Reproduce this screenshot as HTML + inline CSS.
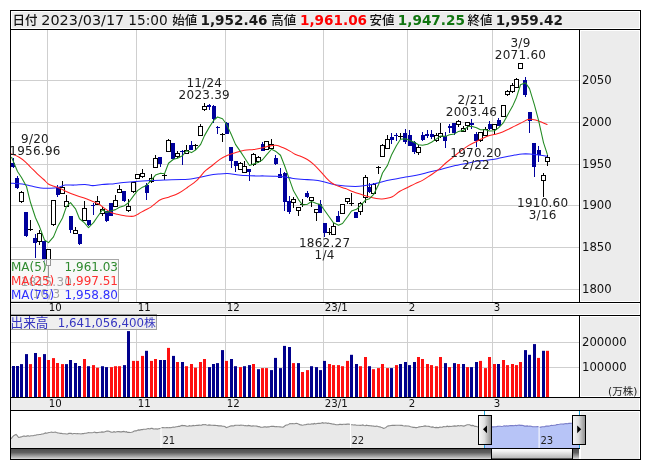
<!DOCTYPE html>
<html><head><meta charset="utf-8"><title>chart</title><style>html,body{margin:0;padding:0;background:#fff;}body{width:653px;height:470px;overflow:hidden;}svg{display:block;}</style></head><body>
<svg width="653" height="470" viewBox="0 0 653 470">
<defs>
<linearGradient id="trk" x1="0" y1="0" x2="0" y2="1"><stop offset="0" stop-color="#4e4e4e"/><stop offset="0.35" stop-color="#606060"/><stop offset="0.9" stop-color="#c4c4c4"/><stop offset="1" stop-color="#e0e0e0"/></linearGradient>
<linearGradient id="thumb" x1="0" y1="0" x2="0" y2="1"><stop offset="0" stop-color="#ffffff"/><stop offset="0.3" stop-color="#eeeeee"/><stop offset="1" stop-color="#b0b0b0"/></linearGradient>
<linearGradient id="hdl" x1="0" y1="0" x2="1" y2="0"><stop offset="0" stop-color="#f8f8f8"/><stop offset="0.45" stop-color="#e0e0e0"/><stop offset="1" stop-color="#8c8c8c"/></linearGradient>
<clipPath id="mainclip"><rect x="11" y="30" width="568" height="272"/></clipPath>
<clipPath id="volclip"><rect x="11" y="316" width="568" height="81"/></clipPath>
</defs>
<rect width="653" height="470" fill="#fff"/>
<rect x="12" y="12" width="627" height="16" fill="#ececec"/>
<rect x="581" y="31" width="58" height="270" fill="#ececec"/>
<rect x="11" y="304" width="628" height="10" fill="#ececec"/>
<rect x="581" y="317" width="58" height="79" fill="#ececec"/>
<rect x="11" y="398" width="628" height="12" fill="#ececec"/>
<rect x="581" y="412" width="58" height="47" fill="#ececec"/>
<line x1="47.5" y1="30" x2="47.5" y2="302" stroke="#cfcfcf" stroke-width="1"/>
<line x1="47.5" y1="316" x2="47.5" y2="397" stroke="#cfcfcf" stroke-width="1"/>
<line x1="136.5" y1="30" x2="136.5" y2="302" stroke="#cfcfcf" stroke-width="1"/>
<line x1="136.5" y1="316" x2="136.5" y2="397" stroke="#cfcfcf" stroke-width="1"/>
<line x1="225.5" y1="30" x2="225.5" y2="302" stroke="#cfcfcf" stroke-width="1"/>
<line x1="225.5" y1="316" x2="225.5" y2="397" stroke="#cfcfcf" stroke-width="1"/>
<line x1="323.5" y1="30" x2="323.5" y2="302" stroke="#cfcfcf" stroke-width="1"/>
<line x1="323.5" y1="316" x2="323.5" y2="397" stroke="#cfcfcf" stroke-width="1"/>
<line x1="407.5" y1="30" x2="407.5" y2="302" stroke="#cfcfcf" stroke-width="1"/>
<line x1="407.5" y1="316" x2="407.5" y2="397" stroke="#cfcfcf" stroke-width="1"/>
<line x1="492.5" y1="30" x2="492.5" y2="302" stroke="#cfcfcf" stroke-width="1"/>
<line x1="492.5" y1="316" x2="492.5" y2="397" stroke="#cfcfcf" stroke-width="1"/>
<line x1="11" y1="80.5" x2="579" y2="80.5" stroke="#cfcfcf" stroke-width="1"/>
<line x1="11" y1="122.5" x2="579" y2="122.5" stroke="#cfcfcf" stroke-width="1"/>
<line x1="11" y1="164.5" x2="579" y2="164.5" stroke="#cfcfcf" stroke-width="1"/>
<line x1="11" y1="205.5" x2="579" y2="205.5" stroke="#cfcfcf" stroke-width="1"/>
<line x1="11" y1="247.5" x2="579" y2="247.5" stroke="#cfcfcf" stroke-width="1"/>
<line x1="11" y1="289.5" x2="579" y2="289.5" stroke="#cfcfcf" stroke-width="1"/>
<line x1="11" y1="342.5" x2="579" y2="342.5" stroke="#cfcfcf" stroke-width="1"/>
<line x1="11" y1="367.5" x2="579" y2="367.5" stroke="#cfcfcf" stroke-width="1"/>
<g clip-path="url(#mainclip)" shape-rendering="crispEdges">
<rect x="13" y="158" width="1" height="10" fill="#00009c"/>
<rect x="11" y="163" width="4" height="4" fill="#00009c"/>
<rect x="17" y="176" width="1" height="13" fill="#00009c"/>
<rect x="15" y="178" width="4" height="10" fill="#00009c"/>
<rect x="21" y="191" width="1" height="12" fill="#000"/>
<rect x="19" y="192" width="5" height="10" fill="#000"/>
<rect x="20" y="193" width="3" height="8" fill="#fff"/>
<rect x="26" y="212" width="1" height="25" fill="#00009c"/>
<rect x="24" y="212" width="4" height="24" fill="#00009c"/>
<rect x="30" y="220" width="1" height="11" fill="#000"/>
<rect x="28" y="229" width="5" height="1" fill="#000"/>
<rect x="35" y="234" width="1" height="24" fill="#00009c"/>
<rect x="33" y="238" width="4" height="5" fill="#00009c"/>
<rect x="39" y="230" width="1" height="15" fill="#000"/>
<rect x="37" y="233" width="5" height="9" fill="#000"/>
<rect x="38" y="234" width="3" height="7" fill="#fff"/>
<rect x="44" y="241" width="1" height="21" fill="#00009c"/>
<rect x="42" y="241" width="4" height="18" fill="#00009c"/>
<rect x="48" y="249" width="1" height="28" fill="#000"/>
<rect x="46" y="249" width="5" height="17" fill="#000"/>
<rect x="47" y="250" width="3" height="15" fill="#fff"/>
<rect x="53" y="200" width="1" height="26" fill="#000"/>
<rect x="51" y="200" width="5" height="25" fill="#000"/>
<rect x="52" y="201" width="3" height="23" fill="#fff"/>
<rect x="57" y="185" width="1" height="12" fill="#00009c"/>
<rect x="56" y="187" width="4" height="8" fill="#00009c"/>
<rect x="62" y="181" width="1" height="13" fill="#000"/>
<rect x="60" y="187" width="5" height="7" fill="#000"/>
<rect x="61" y="188" width="3" height="5" fill="#fff"/>
<rect x="66" y="195" width="1" height="12" fill="#000"/>
<rect x="64" y="201" width="5" height="6" fill="#000"/>
<rect x="65" y="202" width="3" height="4" fill="#fff"/>
<rect x="70" y="216" width="1" height="17" fill="#00009c"/>
<rect x="69" y="216" width="4" height="14" fill="#00009c"/>
<rect x="75" y="227" width="1" height="7" fill="#000"/>
<rect x="73" y="230" width="5" height="4" fill="#000"/>
<rect x="74" y="231" width="3" height="2" fill="#fff"/>
<rect x="79" y="234" width="1" height="11" fill="#00009c"/>
<rect x="78" y="234" width="4" height="10" fill="#00009c"/>
<rect x="84" y="201" width="1" height="20" fill="#000"/>
<rect x="82" y="208" width="5" height="13" fill="#000"/>
<rect x="83" y="209" width="3" height="11" fill="#fff"/>
<rect x="88" y="220" width="1" height="6" fill="#00009c"/>
<rect x="87" y="220" width="4" height="5" fill="#00009c"/>
<rect x="93" y="203" width="1" height="12" fill="#00009c"/>
<rect x="91" y="205" width="4" height="1" fill="#00009c"/>
<rect x="97" y="196" width="1" height="9" fill="#000"/>
<rect x="95" y="201" width="5" height="4" fill="#000"/>
<rect x="96" y="202" width="3" height="2" fill="#fff"/>
<rect x="102" y="207" width="1" height="9" fill="#000"/>
<rect x="100" y="209" width="5" height="5" fill="#000"/>
<rect x="101" y="210" width="3" height="3" fill="#fff"/>
<rect x="106" y="211" width="1" height="11" fill="#00009c"/>
<rect x="105" y="211" width="4" height="10" fill="#00009c"/>
<rect x="111" y="203" width="1" height="13" fill="#00009c"/>
<rect x="109" y="203" width="4" height="13" fill="#00009c"/>
<rect x="115" y="195" width="1" height="12" fill="#000"/>
<rect x="113" y="200" width="5" height="7" fill="#000"/>
<rect x="114" y="201" width="3" height="5" fill="#fff"/>
<rect x="119" y="185" width="1" height="7" fill="#000"/>
<rect x="117" y="189" width="5" height="4" fill="#000"/>
<rect x="118" y="190" width="3" height="2" fill="#fff"/>
<rect x="124" y="191" width="1" height="11" fill="#00009c"/>
<rect x="122" y="191" width="4" height="10" fill="#00009c"/>
<rect x="128" y="199" width="1" height="13" fill="#000"/>
<rect x="126" y="206" width="5" height="5" fill="#000"/>
<rect x="127" y="207" width="3" height="3" fill="#fff"/>
<rect x="133" y="182" width="1" height="11" fill="#000"/>
<rect x="131" y="182" width="5" height="10" fill="#000"/>
<rect x="132" y="183" width="3" height="8" fill="#fff"/>
<rect x="137" y="174" width="1" height="5" fill="#000"/>
<rect x="135" y="174" width="5" height="5" fill="#000"/>
<rect x="136" y="175" width="3" height="3" fill="#fff"/>
<rect x="142" y="169" width="1" height="9" fill="#000"/>
<rect x="140" y="173" width="5" height="4" fill="#000"/>
<rect x="141" y="174" width="3" height="2" fill="#fff"/>
<rect x="146" y="183" width="1" height="17" fill="#00009c"/>
<rect x="145" y="185" width="4" height="8" fill="#00009c"/>
<rect x="151" y="174" width="1" height="9" fill="#000"/>
<rect x="149" y="178" width="5" height="4" fill="#000"/>
<rect x="150" y="179" width="3" height="2" fill="#fff"/>
<rect x="155" y="155" width="1" height="13" fill="#000"/>
<rect x="153" y="158" width="5" height="10" fill="#000"/>
<rect x="154" y="159" width="3" height="8" fill="#fff"/>
<rect x="160" y="157" width="1" height="10" fill="#00009c"/>
<rect x="158" y="157" width="4" height="7" fill="#00009c"/>
<rect x="164" y="173" width="1" height="7" fill="#000"/>
<rect x="162" y="175" width="5" height="1" fill="#000"/>
<rect x="168" y="139" width="1" height="13" fill="#000"/>
<rect x="166" y="140" width="5" height="12" fill="#000"/>
<rect x="167" y="141" width="3" height="10" fill="#fff"/>
<rect x="173" y="143" width="1" height="16" fill="#00009c"/>
<rect x="171" y="143" width="4" height="16" fill="#00009c"/>
<rect x="177" y="151" width="1" height="7" fill="#000"/>
<rect x="175" y="153" width="5" height="4" fill="#000"/>
<rect x="176" y="154" width="3" height="2" fill="#fff"/>
<rect x="182" y="150" width="1" height="15" fill="#00009c"/>
<rect x="180" y="151" width="4" height="1" fill="#00009c"/>
<rect x="186" y="145" width="1" height="8" fill="#000"/>
<rect x="184" y="150" width="5" height="4" fill="#000"/>
<rect x="185" y="151" width="3" height="2" fill="#fff"/>
<rect x="191" y="141" width="1" height="9" fill="#00009c"/>
<rect x="189" y="145" width="4" height="5" fill="#00009c"/>
<rect x="195" y="144" width="1" height="6" fill="#000"/>
<rect x="193" y="145" width="5" height="1" fill="#000"/>
<rect x="200" y="124" width="1" height="12" fill="#000"/>
<rect x="198" y="126" width="5" height="10" fill="#000"/>
<rect x="199" y="127" width="3" height="8" fill="#fff"/>
<rect x="204" y="103" width="1" height="8" fill="#000"/>
<rect x="202" y="106" width="5" height="4" fill="#000"/>
<rect x="203" y="107" width="3" height="2" fill="#fff"/>
<rect x="209" y="104" width="1" height="6" fill="#00009c"/>
<rect x="207" y="105" width="4" height="2" fill="#00009c"/>
<rect x="213" y="105" width="1" height="18" fill="#00009c"/>
<rect x="212" y="106" width="4" height="13" fill="#00009c"/>
<rect x="217" y="126" width="1" height="8" fill="#00009c"/>
<rect x="216" y="127" width="4" height="1" fill="#00009c"/>
<rect x="222" y="133" width="1" height="9" fill="#000"/>
<rect x="220" y="134" width="5" height="1" fill="#000"/>
<rect x="226" y="122" width="1" height="12" fill="#00009c"/>
<rect x="225" y="123" width="4" height="11" fill="#00009c"/>
<rect x="231" y="147" width="1" height="21" fill="#00009c"/>
<rect x="229" y="147" width="4" height="14" fill="#00009c"/>
<rect x="235" y="161" width="1" height="11" fill="#00009c"/>
<rect x="234" y="161" width="4" height="5" fill="#00009c"/>
<rect x="240" y="162" width="1" height="8" fill="#000"/>
<rect x="238" y="163" width="5" height="7" fill="#000"/>
<rect x="239" y="164" width="3" height="5" fill="#fff"/>
<rect x="244" y="161" width="1" height="12" fill="#000"/>
<rect x="242" y="166" width="5" height="7" fill="#000"/>
<rect x="243" y="167" width="3" height="5" fill="#fff"/>
<rect x="249" y="169" width="1" height="12" fill="#00009c"/>
<rect x="247" y="169" width="4" height="3" fill="#00009c"/>
<rect x="253" y="153" width="1" height="13" fill="#000"/>
<rect x="251" y="154" width="5" height="11" fill="#000"/>
<rect x="252" y="155" width="3" height="9" fill="#fff"/>
<rect x="258" y="156" width="1" height="7" fill="#000"/>
<rect x="256" y="157" width="5" height="5" fill="#000"/>
<rect x="257" y="158" width="3" height="3" fill="#fff"/>
<rect x="262" y="142" width="1" height="9" fill="#00009c"/>
<rect x="261" y="144" width="4" height="7" fill="#00009c"/>
<rect x="266" y="141" width="1" height="9" fill="#000"/>
<rect x="264" y="141" width="5" height="9" fill="#000"/>
<rect x="265" y="142" width="3" height="7" fill="#fff"/>
<rect x="271" y="139" width="1" height="10" fill="#000"/>
<rect x="269" y="144" width="5" height="5" fill="#000"/>
<rect x="270" y="145" width="3" height="3" fill="#fff"/>
<rect x="275" y="155" width="1" height="10" fill="#00009c"/>
<rect x="274" y="158" width="4" height="6" fill="#00009c"/>
<rect x="280" y="168" width="1" height="10" fill="#00009c"/>
<rect x="278" y="174" width="4" height="4" fill="#00009c"/>
<rect x="284" y="172" width="1" height="39" fill="#00009c"/>
<rect x="283" y="173" width="4" height="29" fill="#00009c"/>
<rect x="289" y="196" width="1" height="18" fill="#00009c"/>
<rect x="287" y="201" width="4" height="11" fill="#00009c"/>
<rect x="293" y="197" width="1" height="11" fill="#000"/>
<rect x="291" y="199" width="5" height="4" fill="#000"/>
<rect x="292" y="200" width="3" height="2" fill="#fff"/>
<rect x="298" y="207" width="1" height="9" fill="#000"/>
<rect x="296" y="207" width="5" height="4" fill="#000"/>
<rect x="297" y="208" width="3" height="2" fill="#fff"/>
<rect x="302" y="199" width="1" height="8" fill="#000"/>
<rect x="300" y="204" width="5" height="1" fill="#000"/>
<rect x="307" y="191" width="1" height="7" fill="#00009c"/>
<rect x="305" y="193" width="4" height="4" fill="#00009c"/>
<rect x="311" y="198" width="1" height="9" fill="#000"/>
<rect x="309" y="197" width="5" height="4" fill="#000"/>
<rect x="310" y="198" width="3" height="2" fill="#fff"/>
<rect x="316" y="210" width="1" height="11" fill="#000"/>
<rect x="314" y="209" width="5" height="4" fill="#000"/>
<rect x="315" y="210" width="3" height="2" fill="#fff"/>
<rect x="320" y="200" width="1" height="13" fill="#00009c"/>
<rect x="318" y="204" width="4" height="9" fill="#00009c"/>
<rect x="324" y="223" width="1" height="14" fill="#00009c"/>
<rect x="323" y="223" width="4" height="10" fill="#00009c"/>
<rect x="329" y="228" width="1" height="7" fill="#000"/>
<rect x="327" y="232" width="5" height="1" fill="#000"/>
<rect x="333" y="223" width="1" height="12" fill="#000"/>
<rect x="331" y="226" width="5" height="9" fill="#000"/>
<rect x="332" y="227" width="3" height="7" fill="#fff"/>
<rect x="338" y="211" width="1" height="11" fill="#00009c"/>
<rect x="336" y="216" width="4" height="6" fill="#00009c"/>
<rect x="342" y="204" width="1" height="10" fill="#000"/>
<rect x="340" y="204" width="5" height="10" fill="#000"/>
<rect x="341" y="205" width="3" height="8" fill="#fff"/>
<rect x="347" y="198" width="1" height="6" fill="#000"/>
<rect x="345" y="198" width="5" height="4" fill="#000"/>
<rect x="346" y="199" width="3" height="2" fill="#fff"/>
<rect x="351" y="193" width="1" height="13" fill="#000"/>
<rect x="349" y="203" width="5" height="1" fill="#000"/>
<rect x="356" y="212" width="1" height="6" fill="#00009c"/>
<rect x="354" y="212" width="4" height="6" fill="#00009c"/>
<rect x="360" y="202" width="1" height="13" fill="#000"/>
<rect x="358" y="203" width="5" height="9" fill="#000"/>
<rect x="359" y="204" width="3" height="7" fill="#fff"/>
<rect x="365" y="175" width="1" height="28" fill="#000"/>
<rect x="363" y="177" width="5" height="21" fill="#000"/>
<rect x="364" y="178" width="3" height="19" fill="#fff"/>
<rect x="369" y="183" width="1" height="10" fill="#00009c"/>
<rect x="367" y="187" width="4" height="5" fill="#00009c"/>
<rect x="373" y="183" width="1" height="11" fill="#000"/>
<rect x="371" y="184" width="5" height="10" fill="#000"/>
<rect x="372" y="185" width="3" height="8" fill="#fff"/>
<rect x="378" y="166" width="1" height="8" fill="#000"/>
<rect x="376" y="167" width="5" height="1" fill="#000"/>
<rect x="382" y="144" width="1" height="13" fill="#000"/>
<rect x="380" y="145" width="5" height="12" fill="#000"/>
<rect x="381" y="146" width="3" height="10" fill="#fff"/>
<rect x="387" y="135" width="1" height="14" fill="#000"/>
<rect x="385" y="139" width="5" height="10" fill="#000"/>
<rect x="386" y="140" width="3" height="8" fill="#fff"/>
<rect x="391" y="133" width="1" height="11" fill="#00009c"/>
<rect x="390" y="137" width="4" height="3" fill="#00009c"/>
<rect x="396" y="133" width="1" height="8" fill="#00009c"/>
<rect x="394" y="135" width="4" height="1" fill="#00009c"/>
<rect x="400" y="133" width="1" height="6" fill="#000"/>
<rect x="398" y="136" width="5" height="1" fill="#000"/>
<rect x="405" y="129" width="1" height="15" fill="#00009c"/>
<rect x="403" y="133" width="4" height="9" fill="#00009c"/>
<rect x="409" y="130" width="1" height="16" fill="#00009c"/>
<rect x="408" y="135" width="4" height="11" fill="#00009c"/>
<rect x="414" y="141" width="1" height="13" fill="#00009c"/>
<rect x="412" y="142" width="4" height="10" fill="#00009c"/>
<rect x="418" y="145" width="1" height="10" fill="#000"/>
<rect x="416" y="147" width="5" height="6" fill="#000"/>
<rect x="417" y="148" width="3" height="4" fill="#fff"/>
<rect x="422" y="132" width="1" height="9" fill="#00009c"/>
<rect x="421" y="135" width="4" height="5" fill="#00009c"/>
<rect x="427" y="130" width="1" height="8" fill="#00009c"/>
<rect x="425" y="134" width="4" height="2" fill="#00009c"/>
<rect x="431" y="130" width="1" height="9" fill="#00009c"/>
<rect x="430" y="134" width="4" height="3" fill="#00009c"/>
<rect x="436" y="133" width="1" height="9" fill="#000"/>
<rect x="434" y="135" width="5" height="6" fill="#000"/>
<rect x="435" y="136" width="3" height="4" fill="#fff"/>
<rect x="440" y="123" width="1" height="15" fill="#000"/>
<rect x="438" y="133" width="5" height="4" fill="#000"/>
<rect x="439" y="134" width="3" height="2" fill="#fff"/>
<rect x="445" y="132" width="1" height="16" fill="#00009c"/>
<rect x="443" y="136" width="4" height="5" fill="#00009c"/>
<rect x="449" y="124" width="1" height="9" fill="#00009c"/>
<rect x="448" y="126" width="4" height="2" fill="#00009c"/>
<rect x="454" y="123" width="1" height="12" fill="#00009c"/>
<rect x="452" y="123" width="4" height="10" fill="#00009c"/>
<rect x="458" y="120" width="1" height="7" fill="#000"/>
<rect x="456" y="121" width="5" height="4" fill="#000"/>
<rect x="457" y="122" width="3" height="2" fill="#fff"/>
<rect x="463" y="126" width="1" height="6" fill="#000"/>
<rect x="461" y="128" width="5" height="4" fill="#000"/>
<rect x="462" y="129" width="3" height="2" fill="#fff"/>
<rect x="467" y="122" width="1" height="8" fill="#000"/>
<rect x="465" y="122" width="5" height="4" fill="#000"/>
<rect x="466" y="123" width="3" height="2" fill="#fff"/>
<rect x="471" y="119" width="1" height="10" fill="#00009c"/>
<rect x="470" y="123" width="4" height="2" fill="#00009c"/>
<rect x="476" y="132" width="1" height="15" fill="#00009c"/>
<rect x="474" y="134" width="4" height="7" fill="#00009c"/>
<rect x="480" y="132" width="1" height="10" fill="#000"/>
<rect x="478" y="132" width="5" height="9" fill="#000"/>
<rect x="479" y="133" width="3" height="7" fill="#fff"/>
<rect x="485" y="127" width="1" height="9" fill="#000"/>
<rect x="483" y="129" width="5" height="7" fill="#000"/>
<rect x="484" y="130" width="3" height="5" fill="#fff"/>
<rect x="489" y="121" width="1" height="9" fill="#00009c"/>
<rect x="488" y="124" width="4" height="5" fill="#00009c"/>
<rect x="494" y="124" width="1" height="10" fill="#000"/>
<rect x="492" y="124" width="5" height="6" fill="#000"/>
<rect x="493" y="125" width="3" height="4" fill="#fff"/>
<rect x="498" y="118" width="1" height="8" fill="#00009c"/>
<rect x="497" y="120" width="4" height="6" fill="#00009c"/>
<rect x="503" y="105" width="1" height="12" fill="#000"/>
<rect x="501" y="105" width="5" height="12" fill="#000"/>
<rect x="502" y="106" width="3" height="10" fill="#fff"/>
<rect x="507" y="90" width="1" height="6" fill="#000"/>
<rect x="505" y="91" width="5" height="4" fill="#000"/>
<rect x="506" y="92" width="3" height="2" fill="#fff"/>
<rect x="512" y="83" width="1" height="10" fill="#000"/>
<rect x="510" y="85" width="5" height="7" fill="#000"/>
<rect x="511" y="86" width="3" height="5" fill="#fff"/>
<rect x="516" y="78" width="1" height="10" fill="#000"/>
<rect x="514" y="79" width="5" height="9" fill="#000"/>
<rect x="515" y="80" width="3" height="7" fill="#fff"/>
<rect x="520" y="63" width="1" height="6" fill="#000"/>
<rect x="518" y="63" width="5" height="6" fill="#000"/>
<rect x="519" y="64" width="3" height="4" fill="#fff"/>
<rect x="525" y="77" width="1" height="20" fill="#00009c"/>
<rect x="523" y="80" width="4" height="15" fill="#00009c"/>
<rect x="529" y="112" width="1" height="21" fill="#00009c"/>
<rect x="528" y="112" width="4" height="9" fill="#00009c"/>
<rect x="534" y="143" width="1" height="34" fill="#00009c"/>
<rect x="532" y="143" width="4" height="24" fill="#00009c"/>
<rect x="538" y="146" width="1" height="16" fill="#00009c"/>
<rect x="537" y="150" width="4" height="5" fill="#00009c"/>
<rect x="543" y="173" width="1" height="24" fill="#000"/>
<rect x="541" y="175" width="5" height="6" fill="#000"/>
<rect x="542" y="176" width="3" height="4" fill="#fff"/>
<rect x="547" y="155" width="1" height="11" fill="#000"/>
<rect x="545" y="157" width="5" height="5" fill="#000"/>
<rect x="546" y="158" width="3" height="3" fill="#fff"/>
</g>
<g clip-path="url(#mainclip)" fill="none" stroke-width="1.05" stroke-linejoin="round">
<path d="M11.00,183.20 C11.35,183.22 11.22,183.17 13.10,183.30 C14.98,183.43 19.25,183.55 22.30,184.00 C25.35,184.45 28.35,185.35 31.40,186.00 C34.45,186.65 37.53,187.53 40.60,187.90 C43.67,188.27 46.98,188.25 49.80,188.20 C52.62,188.15 54.95,188.12 57.50,187.60 C60.05,187.08 62.30,185.52 65.10,185.10 C67.90,184.68 70.98,185.20 74.30,185.10 C77.62,185.00 81.93,184.42 85.00,184.50 C88.07,184.58 89.88,185.60 92.70,185.60 C95.52,185.60 99.02,184.77 101.90,184.50 C104.78,184.23 107.95,184.13 110.00,184.00 C112.05,183.87 111.97,183.93 114.20,183.70 C116.43,183.47 119.83,182.97 123.40,182.60 C126.97,182.23 131.02,181.83 135.60,181.50 C140.18,181.17 145.78,180.85 150.90,180.60 C156.02,180.35 161.18,180.18 166.30,180.00 C171.42,179.82 177.52,179.65 181.60,179.50 C185.68,179.35 187.75,179.47 190.80,179.10 C193.85,178.73 196.83,177.95 199.90,177.30 C202.97,176.65 206.12,175.73 209.20,175.20 C212.28,174.67 215.33,174.37 218.40,174.10 C221.47,173.83 224.53,173.50 227.60,173.60 C230.67,173.70 233.75,174.37 236.80,174.70 C239.85,175.03 242.85,175.40 245.90,175.60 C248.95,175.80 252.03,175.85 255.10,175.90 C258.17,175.95 261.23,175.85 264.30,175.90 C267.37,175.95 270.43,176.07 273.50,176.20 C276.57,176.33 279.63,176.37 282.70,176.70 C285.77,177.03 289.35,177.82 291.90,178.20 C294.45,178.58 295.95,178.78 298.00,179.00 C300.05,179.22 301.63,179.35 304.20,179.50 C306.77,179.65 310.33,179.58 313.40,179.90 C316.47,180.22 319.53,180.72 322.60,181.40 C325.67,182.08 328.75,183.30 331.80,184.00 C334.85,184.70 337.85,185.22 340.90,185.60 C343.95,185.98 347.03,186.18 350.10,186.30 C353.17,186.42 356.23,186.50 359.30,186.30 C362.37,186.10 365.43,185.65 368.50,185.10 C371.57,184.55 374.63,183.77 377.70,183.00 C380.77,182.23 384.47,181.08 386.90,180.50 C389.33,179.92 388.85,180.12 392.30,179.50 C395.75,178.88 402.50,177.77 407.60,176.80 C412.70,175.83 417.80,174.85 422.90,173.70 C428.00,172.55 433.10,171.18 438.20,169.90 C443.30,168.62 448.40,167.15 453.50,166.00 C458.60,164.85 464.80,163.82 468.80,163.00 C472.80,162.18 474.82,161.53 477.50,161.10 C480.18,160.67 482.42,160.65 484.90,160.40 C487.38,160.15 489.92,159.98 492.40,159.60 C494.88,159.22 497.32,158.60 499.80,158.10 C502.28,157.60 504.82,157.10 507.30,156.60 C509.78,156.10 512.22,155.53 514.70,155.10 C517.18,154.67 519.72,154.18 522.20,154.00 C524.68,153.82 527.12,153.87 529.60,154.00 C532.08,154.13 534.12,154.42 537.10,154.80 C540.08,155.18 545.77,156.05 547.50,156.30" stroke="#2323ff"/>
<path d="M11.00,153.80 C11.35,153.92 11.73,153.92 13.10,154.50 C14.47,155.08 17.17,156.08 19.20,157.30 C21.23,158.52 23.27,160.02 25.30,161.80 C27.33,163.58 29.35,165.95 31.40,168.00 C33.45,170.05 35.55,172.18 37.60,174.10 C39.65,176.02 41.92,177.85 43.70,179.50 C45.48,181.15 46.77,182.92 48.30,184.00 C49.83,185.08 51.12,185.35 52.90,186.00 C54.68,186.65 56.97,187.08 59.00,187.90 C61.03,188.72 62.55,189.75 65.10,190.90 C67.65,192.05 71.23,193.65 74.30,194.80 C77.37,195.95 80.43,196.70 83.50,197.80 C86.57,198.90 90.15,200.37 92.70,201.40 C95.25,202.43 96.77,202.80 98.80,204.00 C100.83,205.20 102.85,207.18 104.90,208.60 C106.95,210.02 109.03,211.55 111.10,212.50 C113.17,213.45 115.00,213.75 117.30,214.30 C119.60,214.85 122.23,215.47 124.90,215.80 C127.57,216.13 131.00,216.65 133.30,216.30 C135.60,215.95 136.78,214.72 138.70,213.70 C140.62,212.68 142.77,211.30 144.80,210.20 C146.83,209.10 149.12,208.25 150.90,207.10 C152.68,205.95 153.83,204.57 155.50,203.30 C157.17,202.03 158.60,200.57 160.90,199.50 C163.20,198.43 166.37,197.93 169.30,196.90 C172.23,195.87 175.43,194.92 178.50,193.30 C181.57,191.68 184.63,189.37 187.70,187.20 C190.77,185.03 194.35,182.62 196.90,180.30 C199.45,177.98 201.47,175.00 203.00,173.30 C204.53,171.60 204.55,171.40 206.10,170.10 C207.65,168.80 210.00,167.28 212.30,165.50 C214.60,163.72 217.35,161.10 219.90,159.40 C222.45,157.70 225.05,156.42 227.60,155.30 C230.15,154.18 232.40,153.55 235.20,152.70 C238.00,151.85 241.33,150.72 244.40,150.20 C247.47,149.68 250.78,149.95 253.60,149.60 C256.42,149.25 258.75,148.68 261.30,148.10 C263.85,147.52 266.48,146.57 268.90,146.10 C271.32,145.63 273.50,145.05 275.80,145.30 C278.10,145.55 280.27,146.58 282.70,147.60 C285.13,148.62 288.35,150.30 290.40,151.40 C292.45,152.50 293.22,153.35 295.00,154.20 C296.78,155.05 299.05,155.62 301.10,156.50 C303.15,157.38 305.25,158.23 307.30,159.50 C309.35,160.77 311.37,162.30 313.40,164.10 C315.43,165.90 317.47,168.12 319.50,170.30 C321.53,172.48 323.55,175.08 325.60,177.20 C327.65,179.32 329.75,181.53 331.80,183.00 C333.85,184.47 335.62,185.07 337.90,186.00 C340.18,186.93 342.95,187.65 345.50,188.60 C348.05,189.55 350.65,190.75 353.20,191.70 C355.75,192.65 358.25,193.45 360.80,194.30 C363.35,195.15 365.93,196.08 368.50,196.80 C371.07,197.52 373.95,198.23 376.20,198.60 C378.45,198.97 380.20,199.05 382.00,199.00 C383.80,198.95 385.28,198.68 387.00,198.30 C388.72,197.92 390.15,197.87 392.30,196.70 C394.45,195.53 397.35,192.83 399.90,191.30 C402.45,189.77 405.05,188.78 407.60,187.50 C410.15,186.22 412.65,184.83 415.20,183.60 C417.75,182.37 420.35,181.50 422.90,180.10 C425.45,178.70 427.95,176.90 430.50,175.20 C433.05,173.50 435.65,171.93 438.20,169.90 C440.75,167.87 443.25,165.18 445.80,163.00 C448.35,160.82 450.93,158.85 453.50,156.80 C456.07,154.75 458.65,152.60 461.20,150.70 C463.75,148.80 466.33,146.90 468.80,145.40 C471.27,143.90 473.82,142.82 476.00,141.70 C478.18,140.58 479.92,139.63 481.90,138.70 C483.88,137.77 485.92,136.78 487.90,136.10 C489.88,135.42 491.82,135.10 493.80,134.60 C495.78,134.10 497.55,133.90 499.80,133.10 C502.05,132.30 504.82,130.97 507.30,129.80 C509.78,128.63 512.22,127.33 514.70,126.10 C517.18,124.87 519.97,123.52 522.20,122.40 C524.43,121.28 526.37,119.90 528.10,119.40 C529.83,118.90 530.85,119.15 532.60,119.40 C534.35,119.65 536.12,120.03 538.60,120.90 C541.08,121.77 546.02,123.98 547.50,124.60" stroke="#ff2020"/>
<path d="M11.50,157.00 C11.50,157.00 17.50,171.50 17.50,171.50 C17.50,171.50 21.50,177.50 21.50,177.50 C21.50,177.50 26.50,186.50 26.50,186.50 C26.50,186.50 30.50,202.51 30.50,202.51 C30.50,202.51 35.50,217.75 35.50,217.75 C35.50,217.75 39.50,226.59 39.50,226.59 C39.50,226.59 44.50,239.97 44.50,239.97 C44.50,239.97 48.50,242.65 48.50,242.65 C48.50,242.65 53.50,236.86 53.50,236.86 C53.50,236.86 57.50,227.12 57.50,227.12 C57.50,227.12 62.50,218.02 62.50,218.02 C62.50,218.02 66.50,206.34 66.50,206.34 C66.50,206.34 70.50,202.60 70.50,202.60 C70.50,202.60 75.50,208.80 75.50,208.80 C75.50,208.80 79.50,218.74 79.50,218.74 C79.50,218.74 84.50,222.90 84.50,222.90 C84.50,222.90 88.50,227.72 88.50,227.72 C88.50,227.72 93.50,222.66 93.50,222.66 C93.50,222.66 97.50,216.74 97.50,216.74 C97.50,216.74 102.50,209.74 102.50,209.74 C102.50,209.74 106.50,212.44 106.50,212.44 C106.50,212.44 111.50,210.74 111.50,210.74 C111.50,210.74 115.50,209.62 115.50,209.62 C115.50,209.62 119.50,207.32 119.50,207.32 C119.50,207.32 124.50,205.70 124.50,205.70 C124.50,205.70 128.50,202.72 128.50,202.72 C128.50,202.72 133.50,195.82 133.50,195.82 C133.50,195.82 137.50,190.66 137.50,190.66 C137.50,190.66 142.50,187.16 142.50,187.16 C142.50,187.16 146.50,185.52 146.50,185.52 C146.50,185.52 151.50,179.90 151.50,179.90 C151.50,179.90 155.50,175.10 155.50,175.10 C155.50,175.10 160.50,173.18 160.50,173.18 C160.50,173.18 164.50,173.79 164.50,173.79 C164.50,173.79 168.50,163.23 168.50,163.23 C168.50,163.23 173.50,159.27 173.50,159.27 C173.50,159.27 177.50,158.25 177.50,158.25 C177.50,158.25 182.50,155.78 182.50,155.78 C182.50,155.78 186.50,150.69 186.50,150.69 C186.50,150.69 191.50,152.61 191.50,152.61 C191.50,152.61 195.50,150.02 195.50,150.02 C195.50,150.02 200.50,144.68 200.50,144.68 C200.50,144.68 204.50,135.63 204.50,135.63 C204.50,135.63 209.50,126.87 209.50,126.87 C209.50,126.87 213.50,120.67 213.50,120.67 C213.50,120.67 217.50,117.01 217.50,117.01 C217.50,117.01 222.50,118.80 222.50,118.80 C222.50,118.80 226.50,124.20 226.50,124.20 C226.50,124.20 231.50,135.02 231.50,135.02 C231.50,135.02 235.50,144.40 235.50,144.40 C235.50,144.40 240.50,151.63 240.50,151.63 C240.50,151.63 244.50,157.80 244.50,157.80 C244.50,157.80 249.50,165.42 249.50,165.42 C249.50,165.42 253.50,164.10 253.50,164.10 C253.50,164.10 258.50,162.34 258.50,162.34 C258.50,162.34 262.50,159.78 262.50,159.78 C262.50,159.78 266.50,154.86 266.50,154.86 C266.50,154.86 271.50,149.26 271.50,149.26 C271.50,149.26 275.50,151.18 275.50,151.18 C275.50,151.18 280.50,155.28 280.50,155.28 C280.50,155.28 284.50,165.48 284.50,165.48 C284.50,165.48 289.50,179.66 289.50,179.66 C289.50,179.66 293.50,190.82 293.50,190.82 C293.50,190.82 298.50,199.58 298.50,199.58 C298.50,199.58 302.50,205.01 302.50,205.01 C302.50,205.01 307.50,204.15 307.50,204.15 C307.50,204.15 311.50,201.47 311.50,201.47 C311.50,201.47 316.50,203.55 316.50,203.55 C316.50,203.55 320.50,204.63 320.50,204.63 C320.50,204.63 324.50,210.28 324.50,210.28 C324.50,210.28 329.50,217.31 329.50,217.31 C329.50,217.31 333.50,222.83 333.50,222.83 C333.50,222.83 338.50,225.21 338.50,225.21 C338.50,225.21 342.50,223.53 342.50,223.53 C342.50,223.53 347.50,216.75 347.50,216.75 C347.50,216.75 351.50,210.99 351.50,210.99 C351.50,210.99 356.50,209.27 356.50,209.27 C356.50,209.27 360.50,205.61 360.50,205.61 C360.50,205.61 365.50,200.05 365.50,200.05 C365.50,200.05 369.50,198.71 369.50,198.71 C369.50,198.71 373.50,194.68 373.50,194.68 C373.50,194.68 378.50,184.75 378.50,184.75 C378.50,184.75 382.50,172.99 382.50,172.99 C382.50,172.99 387.50,165.39 387.50,165.39 C387.50,165.39 391.50,154.95 391.50,154.95 C391.50,154.95 396.50,145.44 396.50,145.44 C396.50,145.44 400.50,139.24 400.50,139.24 C400.50,139.24 405.50,138.74 405.50,138.74 C405.50,138.74 409.50,140.20 409.50,140.20 C409.50,140.20 414.50,142.52 414.50,142.52 C414.50,142.52 418.50,144.81 418.50,144.81 C418.50,144.81 422.50,145.32 422.50,145.32 C422.50,145.32 427.50,144.16 427.50,144.16 C427.50,144.16 431.50,142.30 431.50,142.30 C431.50,142.30 436.50,138.86 436.50,138.86 C436.50,138.86 440.50,136.10 440.50,136.10 C440.50,136.10 445.50,136.38 445.50,136.38 C445.50,136.38 449.50,134.66 449.50,134.66 C449.50,134.66 454.50,133.92 454.50,133.92 C454.50,133.92 458.50,131.40 458.50,131.40 C458.50,131.40 463.50,130.38 463.50,130.38 C463.50,130.38 467.50,126.78 467.50,126.78 C467.50,126.78 471.50,126.20 471.50,126.20 C471.50,126.20 476.50,127.76 476.50,127.76 C476.50,127.76 480.50,129.72 480.50,129.72 C480.50,129.72 485.50,129.78 485.50,129.78 C485.50,129.78 489.50,130.90 489.50,130.90 C489.50,130.90 494.50,130.76 494.50,130.76 C494.50,130.76 498.50,127.84 498.50,127.84 C498.50,127.84 503.50,122.54 503.50,122.54 C503.50,122.54 507.50,115.14 507.50,115.14 C507.50,115.14 512.50,106.36 512.50,106.36 C512.50,106.36 516.50,97.42 516.50,97.42 C516.50,97.42 520.50,84.74 520.50,84.74 C520.50,84.74 525.50,82.74 525.50,82.74 C525.50,82.74 529.50,88.66 529.50,88.66 C529.50,88.66 534.50,105.10 534.50,105.10 C534.50,105.10 538.50,120.20 538.50,120.20 C538.50,120.20 543.50,142.58 543.50,142.58 C543.50,142.58 547.50,154.88 547.50,154.88" stroke="#218a21"/>
</g>
<text x="35" y="143" font-family="DejaVu Sans, Liberation Sans, sans-serif" font-size="12" letter-spacing="0.25" fill="#202020" text-anchor="middle">9/20</text>
<text x="35" y="155" font-family="DejaVu Sans, Liberation Sans, sans-serif" font-size="12" letter-spacing="0.25" fill="#202020" text-anchor="middle">1956.96</text>
<text x="204.3" y="87.2" font-family="DejaVu Sans, Liberation Sans, sans-serif" font-size="12" letter-spacing="0.25" fill="#202020" text-anchor="middle">11/24</text>
<text x="204.3" y="98.7" font-family="DejaVu Sans, Liberation Sans, sans-serif" font-size="12" letter-spacing="0.25" fill="#202020" text-anchor="middle">2023.39</text>
<text x="324.6" y="247" font-family="DejaVu Sans, Liberation Sans, sans-serif" font-size="12" letter-spacing="0.25" fill="#202020" text-anchor="middle">1862.27</text>
<text x="324.6" y="258.8" font-family="DejaVu Sans, Liberation Sans, sans-serif" font-size="12" letter-spacing="0.25" fill="#202020" text-anchor="middle">1/4</text>
<text x="471.5" y="103.8" font-family="DejaVu Sans, Liberation Sans, sans-serif" font-size="12" letter-spacing="0.25" fill="#202020" text-anchor="middle">2/21</text>
<text x="471.5" y="115.8" font-family="DejaVu Sans, Liberation Sans, sans-serif" font-size="12" letter-spacing="0.25" fill="#202020" text-anchor="middle">2003.46</text>
<text x="476" y="156.6" font-family="DejaVu Sans, Liberation Sans, sans-serif" font-size="12" letter-spacing="0.25" fill="#202020" text-anchor="middle">1970.20</text>
<text x="476" y="168.6" font-family="DejaVu Sans, Liberation Sans, sans-serif" font-size="12" letter-spacing="0.25" fill="#202020" text-anchor="middle">2/22</text>
<text x="542.7" y="207" font-family="DejaVu Sans, Liberation Sans, sans-serif" font-size="12" letter-spacing="0.25" fill="#202020" text-anchor="middle">1910.60</text>
<text x="542.7" y="219" font-family="DejaVu Sans, Liberation Sans, sans-serif" font-size="12" letter-spacing="0.25" fill="#202020" text-anchor="middle">3/16</text>
<text x="520.5" y="46.7" font-family="DejaVu Sans, Liberation Sans, sans-serif" font-size="12" letter-spacing="0.25" fill="#202020" text-anchor="middle">3/9</text>
<text x="520.5" y="58.6" font-family="DejaVu Sans, Liberation Sans, sans-serif" font-size="12" letter-spacing="0.25" fill="#202020" text-anchor="middle">2071.60</text>
<text x="46.5" y="286.3" font-family="DejaVu Sans, Liberation Sans, sans-serif" font-size="12" letter-spacing="0.25" fill="#202020" text-anchor="middle">1815.30</text>
<text x="46.5" y="298.1" font-family="DejaVu Sans, Liberation Sans, sans-serif" font-size="12" letter-spacing="0.25" fill="#202020" text-anchor="middle">10/3</text>
<rect x="10.5" y="259.5" width="108" height="42.5" fill="#f4f4f4" fill-opacity="0.62" stroke="#a8a8a8" stroke-width="1"/>
<text x="11" y="270.5" font-family="DejaVu Sans, Liberation Sans, sans-serif" font-size="12" fill="#2f8a2f">MA(5)</text><text x="118" y="270.5" font-family="DejaVu Sans, Liberation Sans, sans-serif" font-size="12" fill="#2f8a2f" text-anchor="end">1,961.03</text>
<text x="11" y="284.5" font-family="DejaVu Sans, Liberation Sans, sans-serif" font-size="12" fill="#ff3030">MA(25)</text><text x="118" y="284.5" font-family="DejaVu Sans, Liberation Sans, sans-serif" font-size="12" fill="#ff3030" text-anchor="end">1,997.51</text>
<text x="11" y="298.5" font-family="DejaVu Sans, Liberation Sans, sans-serif" font-size="12" fill="#3030ff">MA(75)</text><text x="118" y="298.5" font-family="DejaVu Sans, Liberation Sans, sans-serif" font-size="12" fill="#3030ff" text-anchor="end">1,958.80</text>
<g clip-path="url(#volclip)">
<rect x="12" y="366.0" width="3" height="31.0" fill="#00008c"/>
<rect x="16" y="366.0" width="3" height="31.0" fill="#00008c"/>
<rect x="20" y="364.1" width="3" height="32.9" fill="#00008c"/>
<rect x="25" y="354.1" width="3" height="42.9" fill="#00008c"/>
<rect x="29" y="364.1" width="3" height="32.9" fill="#ff1010"/>
<rect x="34" y="353.0" width="3" height="44.0" fill="#00008c"/>
<rect x="38" y="357.1" width="3" height="39.9" fill="#ff1010"/>
<rect x="43" y="354.1" width="3" height="42.9" fill="#00008c"/>
<rect x="47" y="360.0" width="3" height="37.0" fill="#ff1010"/>
<rect x="52" y="358.1" width="3" height="38.9" fill="#ff1010"/>
<rect x="56" y="363.0" width="3" height="34.0" fill="#ff1010"/>
<rect x="61" y="364.1" width="3" height="32.9" fill="#ff1010"/>
<rect x="65" y="364.1" width="3" height="32.9" fill="#00008c"/>
<rect x="69" y="360.0" width="3" height="37.0" fill="#00008c"/>
<rect x="74" y="363.0" width="3" height="34.0" fill="#00008c"/>
<rect x="78" y="366.0" width="3" height="31.0" fill="#00008c"/>
<rect x="83" y="359.0" width="3" height="38.0" fill="#ff1010"/>
<rect x="87" y="366.2" width="3" height="30.8" fill="#00008c"/>
<rect x="92" y="365.1" width="3" height="31.9" fill="#ff1010"/>
<rect x="96" y="367.7" width="3" height="29.3" fill="#ff1010"/>
<rect x="101" y="366.2" width="3" height="30.8" fill="#00008c"/>
<rect x="105" y="367.1" width="3" height="29.9" fill="#00008c"/>
<rect x="110" y="367.1" width="3" height="29.9" fill="#ff1010"/>
<rect x="114" y="366.2" width="3" height="30.8" fill="#ff1010"/>
<rect x="118" y="366.2" width="3" height="30.8" fill="#ff1010"/>
<rect x="123" y="365.1" width="3" height="31.9" fill="#00008c"/>
<rect x="127" y="331.1" width="3" height="65.9" fill="#00008c"/>
<rect x="132" y="360.9" width="3" height="36.1" fill="#ff1010"/>
<rect x="136" y="360.9" width="3" height="36.1" fill="#ff1010"/>
<rect x="141" y="355.9" width="3" height="41.1" fill="#ff1010"/>
<rect x="145" y="350.8" width="3" height="46.2" fill="#00008c"/>
<rect x="150" y="360.9" width="3" height="36.1" fill="#ff1010"/>
<rect x="154" y="359.0" width="3" height="38.0" fill="#ff1010"/>
<rect x="159" y="360.0" width="3" height="37.0" fill="#00008c"/>
<rect x="163" y="360.0" width="3" height="37.0" fill="#00008c"/>
<rect x="167" y="347.9" width="3" height="49.1" fill="#ff1010"/>
<rect x="172" y="355.9" width="3" height="41.1" fill="#00008c"/>
<rect x="176" y="362.0" width="3" height="35.0" fill="#ff1010"/>
<rect x="181" y="362.0" width="3" height="35.0" fill="#00008c"/>
<rect x="185" y="366.2" width="3" height="30.8" fill="#ff1010"/>
<rect x="190" y="364.0" width="3" height="33.0" fill="#ff1010"/>
<rect x="194" y="367.7" width="3" height="29.3" fill="#ff1010"/>
<rect x="199" y="362.0" width="3" height="35.0" fill="#ff1010"/>
<rect x="203" y="359.0" width="3" height="38.0" fill="#ff1010"/>
<rect x="208" y="367.1" width="3" height="29.9" fill="#00008c"/>
<rect x="212" y="364.0" width="3" height="33.0" fill="#00008c"/>
<rect x="216" y="363.1" width="3" height="33.9" fill="#00008c"/>
<rect x="221" y="350.1" width="3" height="46.9" fill="#00008c"/>
<rect x="225" y="360.9" width="3" height="36.1" fill="#ff1010"/>
<rect x="230" y="359.0" width="3" height="38.0" fill="#00008c"/>
<rect x="234" y="366.2" width="3" height="30.8" fill="#00008c"/>
<rect x="239" y="367.1" width="3" height="29.9" fill="#ff1010"/>
<rect x="243" y="366.2" width="3" height="30.8" fill="#00008c"/>
<rect x="248" y="365.1" width="3" height="31.9" fill="#00008c"/>
<rect x="252" y="364.0" width="3" height="33.0" fill="#ff1010"/>
<rect x="257" y="369.2" width="3" height="27.8" fill="#00008c"/>
<rect x="261" y="368.1" width="3" height="28.9" fill="#ff1010"/>
<rect x="265" y="368.1" width="3" height="28.9" fill="#ff1010"/>
<rect x="270" y="370.1" width="3" height="26.9" fill="#00008c"/>
<rect x="274" y="357.9" width="3" height="39.1" fill="#00008c"/>
<rect x="279" y="368.1" width="3" height="28.9" fill="#00008c"/>
<rect x="283" y="345.9" width="3" height="51.1" fill="#00008c"/>
<rect x="288" y="347.0" width="3" height="50.0" fill="#00008c"/>
<rect x="292" y="363.1" width="3" height="33.9" fill="#ff1010"/>
<rect x="297" y="363.1" width="3" height="33.9" fill="#00008c"/>
<rect x="301" y="372.0" width="3" height="25.0" fill="#ff1010"/>
<rect x="306" y="370.1" width="3" height="26.9" fill="#ff1010"/>
<rect x="310" y="366.2" width="3" height="30.8" fill="#00008c"/>
<rect x="315" y="367.1" width="3" height="29.9" fill="#00008c"/>
<rect x="319" y="370.1" width="3" height="26.9" fill="#00008c"/>
<rect x="323" y="360.9" width="3" height="36.1" fill="#00008c"/>
<rect x="328" y="364.0" width="3" height="33.0" fill="#ff1010"/>
<rect x="332" y="365.1" width="3" height="31.9" fill="#ff1010"/>
<rect x="337" y="365.1" width="3" height="31.9" fill="#ff1010"/>
<rect x="341" y="366.2" width="3" height="30.8" fill="#ff1010"/>
<rect x="346" y="360.9" width="3" height="36.1" fill="#ff1010"/>
<rect x="350" y="354.8" width="3" height="42.2" fill="#00008c"/>
<rect x="355" y="364.0" width="3" height="33.0" fill="#00008c"/>
<rect x="359" y="366.2" width="3" height="30.8" fill="#ff1010"/>
<rect x="364" y="357.0" width="3" height="40.0" fill="#ff1010"/>
<rect x="368" y="366.2" width="3" height="30.8" fill="#00008c"/>
<rect x="372" y="369.2" width="3" height="27.8" fill="#ff1010"/>
<rect x="377" y="368.1" width="3" height="28.9" fill="#ff1010"/>
<rect x="381" y="364.0" width="3" height="33.0" fill="#ff1010"/>
<rect x="386" y="368.1" width="3" height="28.9" fill="#ff1010"/>
<rect x="390" y="368.1" width="3" height="28.9" fill="#00008c"/>
<rect x="395" y="365.1" width="3" height="31.9" fill="#ff1010"/>
<rect x="399" y="364.0" width="3" height="33.0" fill="#00008c"/>
<rect x="404" y="362.0" width="3" height="35.0" fill="#00008c"/>
<rect x="408" y="365.1" width="3" height="31.9" fill="#00008c"/>
<rect x="413" y="362.0" width="3" height="35.0" fill="#00008c"/>
<rect x="417" y="357.0" width="3" height="40.0" fill="#ff1010"/>
<rect x="421" y="359.0" width="3" height="38.0" fill="#ff1010"/>
<rect x="426" y="364.0" width="3" height="33.0" fill="#ff1010"/>
<rect x="430" y="365.1" width="3" height="31.9" fill="#ff1010"/>
<rect x="435" y="366.2" width="3" height="30.8" fill="#ff1010"/>
<rect x="439" y="357.0" width="3" height="40.0" fill="#ff1010"/>
<rect x="444" y="363.1" width="3" height="33.9" fill="#00008c"/>
<rect x="448" y="367.1" width="3" height="29.9" fill="#ff1010"/>
<rect x="453" y="363.1" width="3" height="33.9" fill="#00008c"/>
<rect x="457" y="364.0" width="3" height="33.0" fill="#ff1010"/>
<rect x="462" y="364.0" width="3" height="33.0" fill="#00008c"/>
<rect x="466" y="367.1" width="3" height="29.9" fill="#ff1010"/>
<rect x="470" y="367.1" width="3" height="29.9" fill="#00008c"/>
<rect x="475" y="362.0" width="3" height="35.0" fill="#00008c"/>
<rect x="479" y="360.9" width="3" height="36.1" fill="#ff1010"/>
<rect x="484" y="368.1" width="3" height="28.9" fill="#ff1010"/>
<rect x="488" y="357.0" width="3" height="40.0" fill="#ff1010"/>
<rect x="493" y="364.0" width="3" height="33.0" fill="#ff1010"/>
<rect x="497" y="364.0" width="3" height="33.0" fill="#00008c"/>
<rect x="502" y="360.0" width="3" height="37.0" fill="#ff1010"/>
<rect x="506" y="365.1" width="3" height="31.9" fill="#ff1010"/>
<rect x="511" y="364.0" width="3" height="33.0" fill="#ff1010"/>
<rect x="515" y="365.1" width="3" height="31.9" fill="#ff1010"/>
<rect x="519" y="362.0" width="3" height="35.0" fill="#ff1010"/>
<rect x="524" y="350.1" width="3" height="46.9" fill="#00008c"/>
<rect x="528" y="354.8" width="3" height="42.2" fill="#00008c"/>
<rect x="533" y="344.1" width="3" height="52.9" fill="#00008c"/>
<rect x="537" y="357.9" width="3" height="39.1" fill="#ff1010"/>
<rect x="542" y="350.8" width="3" height="46.2" fill="#00008c"/>
<rect x="546" y="350.8" width="3" height="46.2" fill="#ff1010"/>
</g>
<rect x="10.5" y="314.5" width="146" height="15" fill="#ececec" fill-opacity="0.85" stroke="#a0a0a0" stroke-width="1"/>
<text x="10.6" y="326.5" font-family="'Liberation Sans', 'Noto Sans CJK JP', sans-serif" font-size="12.6" fill="#3535c0">出来高</text>
<text x="57.8" y="326.5" font-family="DejaVu Sans, Liberation Sans, 'Noto Sans CJK JP', sans-serif" font-size="11.8" fill="#3535c0">1,641,056,400<tspan font-family="'Liberation Sans', 'Noto Sans CJK JP', sans-serif">株</tspan></text>
<text x="582" y="84.2" font-family="DejaVu Sans, Liberation Sans, sans-serif" font-size="11.7" fill="#111">2050</text>
<text x="582" y="126.2" font-family="DejaVu Sans, Liberation Sans, sans-serif" font-size="11.7" fill="#111">2000</text>
<text x="582" y="168.2" font-family="DejaVu Sans, Liberation Sans, sans-serif" font-size="11.7" fill="#111">1950</text>
<text x="582" y="209.2" font-family="DejaVu Sans, Liberation Sans, sans-serif" font-size="11.7" fill="#111">1900</text>
<text x="582" y="251.2" font-family="DejaVu Sans, Liberation Sans, sans-serif" font-size="11.7" fill="#111">1850</text>
<text x="582" y="293.2" font-family="DejaVu Sans, Liberation Sans, sans-serif" font-size="11.7" fill="#111">1800</text>
<text x="582" y="346.2" font-family="DejaVu Sans, Liberation Sans, sans-serif" font-size="11.7" fill="#111">200000</text>
<text x="582" y="371.2" font-family="DejaVu Sans, Liberation Sans, sans-serif" font-size="11.7" fill="#111">100000</text>
<text x="637.5" y="394.6" font-family="'DejaVu Sans', 'Liberation Sans', 'Noto Sans CJK JP', sans-serif" font-size="10.6" fill="#222" text-anchor="end">(<tspan font-family="'Liberation Sans', 'Noto Sans CJK JP', sans-serif">万株</tspan>)</text>
<text x="48.8" y="311" font-family="DejaVu Sans, Liberation Sans, sans-serif" font-size="10.2" fill="#111">10</text>
<text x="48.8" y="406.8" font-family="DejaVu Sans, Liberation Sans, sans-serif" font-size="10.2" fill="#111">10</text>
<text x="137.8" y="311" font-family="DejaVu Sans, Liberation Sans, sans-serif" font-size="10.2" fill="#111">11</text>
<text x="137.8" y="406.8" font-family="DejaVu Sans, Liberation Sans, sans-serif" font-size="10.2" fill="#111">11</text>
<text x="226.8" y="311" font-family="DejaVu Sans, Liberation Sans, sans-serif" font-size="10.2" fill="#111">12</text>
<text x="226.8" y="406.8" font-family="DejaVu Sans, Liberation Sans, sans-serif" font-size="10.2" fill="#111">12</text>
<text x="324.8" y="311" font-family="DejaVu Sans, Liberation Sans, sans-serif" font-size="10.2" fill="#111">23/1</text>
<text x="324.8" y="406.8" font-family="DejaVu Sans, Liberation Sans, sans-serif" font-size="10.2" fill="#111">23/1</text>
<text x="408.8" y="311" font-family="DejaVu Sans, Liberation Sans, sans-serif" font-size="10.2" fill="#111">2</text>
<text x="408.8" y="406.8" font-family="DejaVu Sans, Liberation Sans, sans-serif" font-size="10.2" fill="#111">2</text>
<text x="493.8" y="311" font-family="DejaVu Sans, Liberation Sans, sans-serif" font-size="10.2" fill="#111">3</text>
<text x="493.8" y="406.8" font-family="DejaVu Sans, Liberation Sans, sans-serif" font-size="10.2" fill="#111">3</text>
<path d="M11.0,438.9 L12.3,437.1 L13.7,435.7 L14.9,435.1 L16.1,434.5 L17.4,435.9 L18.6,437.5 L19.8,437.2 L21.1,436.9 L22.3,436.5 L23.5,436.1 L24.7,436.0 L25.9,436.4 L27.1,435.9 L28.4,435.8 L29.6,436.2 L30.8,435.8 L32.0,435.7 L33.2,435.7 L34.5,435.3 L35.7,435.2 L36.9,434.7 L38.2,434.8 L39.4,434.5 L40.6,434.5 L41.9,434.0 L43.1,433.9 L44.3,433.6 L45.5,432.9 L46.8,433.2 L48.0,432.8 L49.2,432.5 L50.4,432.3 L51.6,432.0 L52.9,432.5 L54.1,432.2 L55.3,432.1 L56.5,432.5 L57.8,432.9 L59.0,433.0 L60.2,433.4 L61.4,433.2 L62.7,433.8 L63.9,433.8 L65.1,433.7 L66.3,434.0 L67.6,434.0 L68.8,433.4 L70.0,433.4 L71.2,433.4 L72.5,433.9 L73.7,433.5 L74.9,433.5 L76.2,433.8 L77.4,433.6 L78.6,433.8 L79.9,433.8 L81.1,434.0 L82.3,433.6 L83.5,433.6 L84.8,433.3 L86.0,433.3 L87.2,432.9 L88.4,432.5 L89.6,432.8 L90.9,432.7 L92.1,432.7 L93.3,432.5 L94.5,432.1 L95.8,432.6 L97.0,432.6 L98.2,432.5 L99.4,432.2 L100.6,432.3 L101.9,431.9 L103.1,432.1 L104.3,432.0 L105.6,431.5 L106.8,431.1 L108.0,431.1 L109.2,431.2 L110.5,431.9 L111.7,432.2 L112.9,432.1 L114.1,431.7 L115.4,432.2 L116.6,431.8 L117.8,431.6 L119.0,431.6 L120.2,431.9 L121.5,431.9 L122.7,431.6 L123.9,431.4 L125.2,432.0 L126.4,431.7 L127.6,432.4 L128.9,432.2 L130.1,432.5 L131.3,432.3 L132.6,432.0 L133.8,431.2 L135.0,430.8 L136.2,430.9 L137.5,430.3 L138.7,429.9 L139.9,430.1 L141.2,429.5 L142.4,429.6 L143.6,429.2 L144.8,429.2 L146.1,429.2 L147.3,428.8 L148.5,428.5 L149.8,429.0 L151.0,428.4 L152.2,428.4 L153.4,428.9 L154.6,429.0 L155.9,428.8 L157.1,429.1 L158.8,428.7 L160.5,428.4 L160.5,448 L11.0,448 Z" fill="#e9e9e9"/>
<path d="M11.0,438.9 L12.3,437.1 L13.7,435.7 L14.9,435.1 L16.1,434.5 L17.4,435.9 L18.6,437.5 L19.8,437.2 L21.1,436.9 L22.3,436.5 L23.5,436.1 L24.7,436.0 L25.9,436.4 L27.1,435.9 L28.4,435.8 L29.6,436.2 L30.8,435.8 L32.0,435.7 L33.2,435.7 L34.5,435.3 L35.7,435.2 L36.9,434.7 L38.2,434.8 L39.4,434.5 L40.6,434.5 L41.9,434.0 L43.1,433.9 L44.3,433.6 L45.5,432.9 L46.8,433.2 L48.0,432.8 L49.2,432.5 L50.4,432.3 L51.6,432.0 L52.9,432.5 L54.1,432.2 L55.3,432.1 L56.5,432.5 L57.8,432.9 L59.0,433.0 L60.2,433.4 L61.4,433.2 L62.7,433.8 L63.9,433.8 L65.1,433.7 L66.3,434.0 L67.6,434.0 L68.8,433.4 L70.0,433.4 L71.2,433.4 L72.5,433.9 L73.7,433.5 L74.9,433.5 L76.2,433.8 L77.4,433.6 L78.6,433.8 L79.9,433.8 L81.1,434.0 L82.3,433.6 L83.5,433.6 L84.8,433.3 L86.0,433.3 L87.2,432.9 L88.4,432.5 L89.6,432.8 L90.9,432.7 L92.1,432.7 L93.3,432.5 L94.5,432.1 L95.8,432.6 L97.0,432.6 L98.2,432.5 L99.4,432.2 L100.6,432.3 L101.9,431.9 L103.1,432.1 L104.3,432.0 L105.6,431.5 L106.8,431.1 L108.0,431.1 L109.2,431.2 L110.5,431.9 L111.7,432.2 L112.9,432.1 L114.1,431.7 L115.4,432.2 L116.6,431.8 L117.8,431.6 L119.0,431.6 L120.2,431.9 L121.5,431.9 L122.7,431.6 L123.9,431.4 L125.2,432.0 L126.4,431.7 L127.6,432.4 L128.9,432.2 L130.1,432.5 L131.3,432.3 L132.6,432.0 L133.8,431.2 L135.0,430.8 L136.2,430.9 L137.5,430.3 L138.7,429.9 L139.9,430.1 L141.2,429.5 L142.4,429.6 L143.6,429.2 L144.8,429.2 L146.1,429.2 L147.3,428.8 L148.5,428.5 L149.8,429.0 L151.0,428.4 L152.2,428.4 L153.4,428.9 L154.6,429.0 L155.9,428.8 L157.1,429.1 L158.8,428.7 L160.5,428.4" fill="none" stroke="#8a8a8a" stroke-width="1.1"/>
<path d="M161.5,427.6 L162.9,427.6 L164.3,427.7 L165.7,427.7 L167.0,427.6 L168.4,427.7 L169.8,427.6 L171.0,427.8 L172.3,427.3 L173.5,427.1 L174.7,427.2 L176.0,426.7 L177.2,426.7 L178.4,426.2 L179.6,426.4 L180.8,425.7 L182.0,425.4 L183.2,425.6 L184.5,425.5 L185.8,425.9 L187.0,426.2 L188.2,426.2 L189.4,425.7 L190.7,426.0 L191.9,425.9 L193.1,425.4 L194.4,425.7 L195.6,425.5 L196.8,425.4 L198.0,425.4 L199.2,425.1 L200.4,425.2 L201.7,425.1 L202.9,424.5 L204.1,424.7 L205.3,424.5 L206.6,425.0 L207.8,425.3 L209.0,424.9 L210.2,425.1 L211.4,425.3 L212.7,425.2 L213.9,425.4 L215.1,425.4 L216.3,425.5 L217.6,425.6 L218.8,425.9 L220.0,425.8 L221.2,425.9 L222.5,426.3 L223.7,426.2 L224.9,426.6 L226.2,427.6 L227.4,427.2 L228.7,426.8 L229.9,426.2 L231.1,425.9 L232.3,425.7 L233.5,426.0 L234.8,425.4 L236.0,425.3 L237.2,425.3 L238.4,425.2 L239.6,425.4 L240.8,425.0 L242.1,425.3 L243.3,425.3 L244.5,425.7 L245.8,425.5 L247.0,425.9 L248.2,425.4 L249.4,425.6 L250.7,425.9 L251.9,426.1 L253.1,425.9 L254.3,426.0 L255.5,426.0 L256.8,426.1 L258.0,426.6 L259.2,426.5 L260.4,427.1 L261.7,427.3 L262.9,427.2 L264.1,426.9 L265.3,426.8 L266.6,427.1 L267.8,426.9 L269.0,426.9 L270.2,426.5 L271.5,426.2 L272.7,426.4 L273.9,426.4 L275.1,426.8 L276.4,426.5 L277.6,426.7 L278.8,426.8 L280.1,426.9 L281.3,427.0 L282.5,427.2 L283.7,426.9 L285.0,425.7 L286.2,425.0 L287.4,425.0 L288.7,424.4 L289.9,423.5 L291.1,423.8 L292.4,423.5 L293.6,423.8 L294.8,423.8 L296.1,423.3 L297.3,423.5 L298.5,424.1 L299.8,424.6 L301.0,424.9 L302.2,425.2 L303.4,425.0 L304.6,424.7 L305.9,424.6 L307.1,424.3 L308.3,424.1 L309.5,424.2 L310.7,424.1 L312.0,423.8 L313.2,424.1 L314.4,423.4 L315.7,423.9 L316.9,423.5 L318.3,423.4 L319.6,423.4 L321.0,423.2 L322.4,422.7 L323.6,423.1 L324.8,423.0 L326.0,422.8 L327.3,423.4 L328.5,423.1 L329.7,423.5 L330.9,423.6 L332.2,424.0 L333.4,424.1 L334.6,424.2 L335.9,424.8 L337.1,424.7 L338.3,424.7 L339.5,424.4 L340.8,424.3 L342.0,424.6 L343.2,424.3 L344.4,424.2 L345.8,424.4 L347.2,424.1 L348.6,424.0 L350.0,424.2 L350.0,448 L161.5,448 Z" fill="#e9e9e9"/>
<path d="M161.5,427.6 L162.9,427.6 L164.3,427.7 L165.7,427.7 L167.0,427.6 L168.4,427.7 L169.8,427.6 L171.0,427.8 L172.3,427.3 L173.5,427.1 L174.7,427.2 L176.0,426.7 L177.2,426.7 L178.4,426.2 L179.6,426.4 L180.8,425.7 L182.0,425.4 L183.2,425.6 L184.5,425.5 L185.8,425.9 L187.0,426.2 L188.2,426.2 L189.4,425.7 L190.7,426.0 L191.9,425.9 L193.1,425.4 L194.4,425.7 L195.6,425.5 L196.8,425.4 L198.0,425.4 L199.2,425.1 L200.4,425.2 L201.7,425.1 L202.9,424.5 L204.1,424.7 L205.3,424.5 L206.6,425.0 L207.8,425.3 L209.0,424.9 L210.2,425.1 L211.4,425.3 L212.7,425.2 L213.9,425.4 L215.1,425.4 L216.3,425.5 L217.6,425.6 L218.8,425.9 L220.0,425.8 L221.2,425.9 L222.5,426.3 L223.7,426.2 L224.9,426.6 L226.2,427.6 L227.4,427.2 L228.7,426.8 L229.9,426.2 L231.1,425.9 L232.3,425.7 L233.5,426.0 L234.8,425.4 L236.0,425.3 L237.2,425.3 L238.4,425.2 L239.6,425.4 L240.8,425.0 L242.1,425.3 L243.3,425.3 L244.5,425.7 L245.8,425.5 L247.0,425.9 L248.2,425.4 L249.4,425.6 L250.7,425.9 L251.9,426.1 L253.1,425.9 L254.3,426.0 L255.5,426.0 L256.8,426.1 L258.0,426.6 L259.2,426.5 L260.4,427.1 L261.7,427.3 L262.9,427.2 L264.1,426.9 L265.3,426.8 L266.6,427.1 L267.8,426.9 L269.0,426.9 L270.2,426.5 L271.5,426.2 L272.7,426.4 L273.9,426.4 L275.1,426.8 L276.4,426.5 L277.6,426.7 L278.8,426.8 L280.1,426.9 L281.3,427.0 L282.5,427.2 L283.7,426.9 L285.0,425.7 L286.2,425.0 L287.4,425.0 L288.7,424.4 L289.9,423.5 L291.1,423.8 L292.4,423.5 L293.6,423.8 L294.8,423.8 L296.1,423.3 L297.3,423.5 L298.5,424.1 L299.8,424.6 L301.0,424.9 L302.2,425.2 L303.4,425.0 L304.6,424.7 L305.9,424.6 L307.1,424.3 L308.3,424.1 L309.5,424.2 L310.7,424.1 L312.0,423.8 L313.2,424.1 L314.4,423.4 L315.7,423.9 L316.9,423.5 L318.3,423.4 L319.6,423.4 L321.0,423.2 L322.4,422.7 L323.6,423.1 L324.8,423.0 L326.0,422.8 L327.3,423.4 L328.5,423.1 L329.7,423.5 L330.9,423.6 L332.2,424.0 L333.4,424.1 L334.6,424.2 L335.9,424.8 L337.1,424.7 L338.3,424.7 L339.5,424.4 L340.8,424.3 L342.0,424.6 L343.2,424.3 L344.4,424.2 L345.8,424.4 L347.2,424.1 L348.6,424.0 L350.0,424.2" fill="none" stroke="#8a8a8a" stroke-width="1.1"/>
<path d="M351.0,424.7 L352.3,424.8 L353.6,425.0 L355.0,424.7 L356.3,425.2 L357.6,425.3 L359.0,425.3 L360.3,425.4 L361.6,425.2 L362.8,424.9 L364.1,425.5 L365.3,425.7 L366.5,425.2 L367.7,425.5 L368.9,425.6 L370.2,425.8 L371.4,425.9 L372.6,426.0 L373.8,426.1 L375.0,426.5 L376.3,426.1 L377.5,426.3 L378.7,426.7 L379.9,426.9 L381.1,427.3 L382.4,427.7 L383.6,428.4 L384.8,428.1 L386.1,427.4 L387.3,426.2 L388.5,425.9 L389.7,425.8 L391.0,425.5 L392.2,425.4 L393.4,425.3 L394.7,425.4 L395.9,425.2 L397.1,425.3 L398.3,425.3 L399.6,425.2 L400.8,425.4 L402.0,425.4 L403.2,425.8 L404.5,426.0 L405.7,425.9 L406.9,426.0 L408.1,426.0 L409.4,426.3 L410.6,426.7 L411.8,427.0 L413.1,427.4 L414.3,427.3 L415.5,427.6 L416.7,427.6 L417.9,427.3 L419.2,426.9 L420.4,426.7 L421.6,426.5 L422.9,426.5 L424.1,426.1 L425.3,425.9 L426.5,426.2 L427.8,426.3 L429.0,426.4 L430.2,426.8 L431.4,427.1 L432.7,426.9 L433.9,427.3 L435.1,427.6 L436.3,427.4 L437.6,427.6 L438.8,427.6 L440.0,427.1 L441.2,427.3 L442.4,427.1 L443.7,426.6 L444.9,426.7 L446.1,426.6 L447.3,426.2 L448.6,426.6 L449.8,426.4 L451.0,426.5 L452.2,426.3 L453.5,426.1 L454.7,425.9 L455.9,426.1 L457.1,425.9 L458.4,425.6 L459.6,426.0 L460.8,425.6 L462.1,425.7 L463.3,426.1 L464.5,425.9 L465.9,425.2 L467.2,424.8 L468.6,424.7 L469.8,424.7 L471.1,425.6 L472.3,425.4 L473.5,425.6 L474.7,426.4 L476.0,426.2 L477.2,426.8 L478.6,427.0 L479.9,426.9 L481.3,427.0 L482.6,427.1 L484.0,426.8 L485.4,426.9 L486.7,427.0 L488.1,426.5 L489.5,427.0 L490.8,426.8 L492.2,426.8 L493.5,426.9 L494.9,426.4 L496.2,426.7 L497.5,426.8 L498.9,426.1 L500.2,426.2 L501.6,426.3 L502.9,426.2 L504.1,426.4 L505.4,425.9 L506.6,425.8 L507.9,425.7 L509.1,425.9 L510.4,425.9 L511.6,425.6 L512.9,425.5 L514.1,425.5 L515.4,425.3 L516.6,425.3 L517.9,425.3 L519.2,425.1 L520.6,425.5 L521.9,426.0 L523.2,425.7 L524.6,426.0 L525.9,425.7 L527.3,426.2 L528.6,426.2 L529.9,426.5 L531.1,426.5 L532.4,426.4 L533.6,426.5 L534.9,426.7 L536.1,426.9 L537.4,426.5 L538.6,426.8 L538.6,448 L351.0,448 Z" fill="#e9e9e9"/>
<path d="M351.0,424.7 L352.3,424.8 L353.6,425.0 L355.0,424.7 L356.3,425.2 L357.6,425.3 L359.0,425.3 L360.3,425.4 L361.6,425.2 L362.8,424.9 L364.1,425.5 L365.3,425.7 L366.5,425.2 L367.7,425.5 L368.9,425.6 L370.2,425.8 L371.4,425.9 L372.6,426.0 L373.8,426.1 L375.0,426.5 L376.3,426.1 L377.5,426.3 L378.7,426.7 L379.9,426.9 L381.1,427.3 L382.4,427.7 L383.6,428.4 L384.8,428.1 L386.1,427.4 L387.3,426.2 L388.5,425.9 L389.7,425.8 L391.0,425.5 L392.2,425.4 L393.4,425.3 L394.7,425.4 L395.9,425.2 L397.1,425.3 L398.3,425.3 L399.6,425.2 L400.8,425.4 L402.0,425.4 L403.2,425.8 L404.5,426.0 L405.7,425.9 L406.9,426.0 L408.1,426.0 L409.4,426.3 L410.6,426.7 L411.8,427.0 L413.1,427.4 L414.3,427.3 L415.5,427.6 L416.7,427.6 L417.9,427.3 L419.2,426.9 L420.4,426.7 L421.6,426.5 L422.9,426.5 L424.1,426.1 L425.3,425.9 L426.5,426.2 L427.8,426.3 L429.0,426.4 L430.2,426.8 L431.4,427.1 L432.7,426.9 L433.9,427.3 L435.1,427.6 L436.3,427.4 L437.6,427.6 L438.8,427.6 L440.0,427.1 L441.2,427.3 L442.4,427.1 L443.7,426.6 L444.9,426.7 L446.1,426.6 L447.3,426.2 L448.6,426.6 L449.8,426.4 L451.0,426.5 L452.2,426.3 L453.5,426.1 L454.7,425.9 L455.9,426.1 L457.1,425.9 L458.4,425.6 L459.6,426.0 L460.8,425.6 L462.1,425.7 L463.3,426.1 L464.5,425.9 L465.9,425.2 L467.2,424.8 L468.6,424.7 L469.8,424.7 L471.1,425.6 L472.3,425.4 L473.5,425.6 L474.7,426.4 L476.0,426.2 L477.2,426.8 L478.6,427.0 L479.9,426.9 L481.3,427.0 L482.6,427.1 L484.0,426.8 L485.4,426.9 L486.7,427.0 L488.1,426.5 L489.5,427.0 L490.8,426.8 L492.2,426.8 L493.5,426.9 L494.9,426.4 L496.2,426.7 L497.5,426.8 L498.9,426.1 L500.2,426.2 L501.6,426.3 L502.9,426.2 L504.1,426.4 L505.4,425.9 L506.6,425.8 L507.9,425.7 L509.1,425.9 L510.4,425.9 L511.6,425.6 L512.9,425.5 L514.1,425.5 L515.4,425.3 L516.6,425.3 L517.9,425.3 L519.2,425.1 L520.6,425.5 L521.9,426.0 L523.2,425.7 L524.6,426.0 L525.9,425.7 L527.3,426.2 L528.6,426.2 L529.9,426.5 L531.1,426.5 L532.4,426.4 L533.6,426.5 L534.9,426.7 L536.1,426.9 L537.4,426.5 L538.6,426.8" fill="none" stroke="#8a8a8a" stroke-width="1.1"/>
<path d="M539.6,427.4 L540.9,426.9 L542.2,427.1 L543.5,427.1 L544.8,426.6 L546.1,426.3 L547.4,426.3 L548.7,425.7 L550.0,425.7 L551.4,425.3 L552.7,425.1 L554.0,425.1 L555.4,424.7 L556.8,424.5 L558.1,424.6 L559.4,424.5 L560.8,424.0 L562.1,423.8 L563.5,423.9 L564.8,423.6 L566.1,423.8 L567.5,423.6 L568.8,423.2 L570.2,423.1 L571.5,423.2 L572.8,422.8 L574.0,423.1 L575.2,423.0 L576.5,422.8 L577.8,422.9 L579.0,423.0 L579.0,448 L539.6,448 Z" fill="#e9e9e9"/>
<path d="M539.6,427.4 L540.9,426.9 L542.2,427.1 L543.5,427.1 L544.8,426.6 L546.1,426.3 L547.4,426.3 L548.7,425.7 L550.0,425.7 L551.4,425.3 L552.7,425.1 L554.0,425.1 L555.4,424.7 L556.8,424.5 L558.1,424.6 L559.4,424.5 L560.8,424.0 L562.1,423.8 L563.5,423.9 L564.8,423.6 L566.1,423.8 L567.5,423.6 L568.8,423.2 L570.2,423.1 L571.5,423.2 L572.8,422.8 L574.0,423.1 L575.2,423.0 L576.5,422.8 L577.8,422.9 L579.0,423.0" fill="none" stroke="#8a8a8a" stroke-width="1.1"/>
<clipPath id="selclip"><rect x="484" y="411" width="95.5" height="37"/></clipPath>
<g clip-path="url(#selclip)">
<rect x="484" y="411" width="96" height="37" fill="#fff"/>
<path d="M351.0,424.7 L352.3,424.6 L353.6,425.0 L355.0,424.6 L356.3,425.3 L357.6,425.0 L359.0,425.1 L360.3,425.1 L361.6,425.2 L362.8,425.5 L364.1,425.6 L365.3,425.5 L366.5,425.5 L367.7,425.8 L368.9,426.0 L370.2,425.7 L371.4,425.9 L372.6,426.2 L373.8,426.5 L375.0,426.3 L376.3,426.2 L377.5,426.4 L378.7,426.7 L379.9,427.3 L381.1,427.7 L382.4,428.3 L383.6,428.4 L384.8,428.0 L386.1,427.0 L387.3,426.3 L388.5,425.9 L389.7,425.6 L391.0,425.4 L392.2,425.7 L393.4,425.7 L394.7,425.6 L395.9,425.2 L397.1,425.1 L398.3,425.6 L399.6,425.3 L400.8,425.5 L402.0,425.8 L403.2,425.4 L404.5,425.5 L405.7,425.9 L406.9,426.3 L408.1,426.2 L409.4,426.4 L410.6,426.8 L411.8,427.1 L413.1,426.8 L414.3,427.3 L415.5,427.6 L416.7,427.3 L417.9,427.2 L419.2,426.8 L420.4,426.8 L421.6,426.9 L422.9,426.2 L424.1,426.1 L425.3,425.9 L426.5,425.8 L427.8,426.2 L429.0,426.7 L430.2,426.5 L431.4,427.2 L432.7,427.5 L433.9,427.1 L435.1,427.6 L436.3,427.8 L437.6,427.3 L438.8,427.5 L440.0,427.3 L441.2,426.9 L442.4,427.0 L443.7,426.9 L444.9,426.7 L446.1,426.8 L447.3,426.3 L448.6,426.6 L449.8,426.6 L451.0,426.3 L452.2,426.1 L453.5,425.7 L454.7,425.9 L455.9,425.9 L457.1,425.8 L458.4,426.1 L459.6,426.0 L460.8,425.9 L462.1,425.7 L463.3,426.0 L464.5,425.9 L465.9,425.6 L467.2,424.9 L468.6,424.7 L469.8,425.3 L471.1,425.4 L472.3,425.3 L473.5,426.2 L474.7,425.9 L476.0,426.4 L477.2,426.8 L478.6,427.0 L479.9,426.9 L481.3,426.8 L482.6,426.9 L484.0,426.8 L485.4,426.8 L486.7,426.7 L488.1,426.6 L489.5,426.5 L490.8,427.0 L492.2,426.8 L493.5,426.9 L494.9,426.7 L496.2,426.7 L497.5,426.4 L498.9,426.3 L500.2,426.3 L501.6,426.5 L502.9,426.2 L504.1,425.8 L505.4,426.1 L506.6,425.8 L507.9,426.1 L509.1,425.7 L510.4,425.6 L511.6,425.6 L512.9,425.6 L514.1,425.7 L515.4,425.3 L516.6,425.6 L517.9,425.3 L519.2,425.1 L520.6,425.4 L521.9,425.4 L523.2,425.5 L524.6,426.1 L525.9,426.1 L527.3,425.9 L528.6,426.2 L529.9,426.1 L531.1,426.3 L532.4,426.6 L533.6,426.7 L534.9,426.7 L536.1,426.7 L537.4,426.5 L538.6,426.8 L538.6,448 L351.0,448 Z" fill="#b7c4f7"/>
<path d="M351.0,424.7 L352.3,424.6 L353.6,425.0 L355.0,424.6 L356.3,425.3 L357.6,425.0 L359.0,425.1 L360.3,425.1 L361.6,425.2 L362.8,425.5 L364.1,425.6 L365.3,425.5 L366.5,425.5 L367.7,425.8 L368.9,426.0 L370.2,425.7 L371.4,425.9 L372.6,426.2 L373.8,426.5 L375.0,426.3 L376.3,426.2 L377.5,426.4 L378.7,426.7 L379.9,427.3 L381.1,427.7 L382.4,428.3 L383.6,428.4 L384.8,428.0 L386.1,427.0 L387.3,426.3 L388.5,425.9 L389.7,425.6 L391.0,425.4 L392.2,425.7 L393.4,425.7 L394.7,425.6 L395.9,425.2 L397.1,425.1 L398.3,425.6 L399.6,425.3 L400.8,425.5 L402.0,425.8 L403.2,425.4 L404.5,425.5 L405.7,425.9 L406.9,426.3 L408.1,426.2 L409.4,426.4 L410.6,426.8 L411.8,427.1 L413.1,426.8 L414.3,427.3 L415.5,427.6 L416.7,427.3 L417.9,427.2 L419.2,426.8 L420.4,426.8 L421.6,426.9 L422.9,426.2 L424.1,426.1 L425.3,425.9 L426.5,425.8 L427.8,426.2 L429.0,426.7 L430.2,426.5 L431.4,427.2 L432.7,427.5 L433.9,427.1 L435.1,427.6 L436.3,427.8 L437.6,427.3 L438.8,427.5 L440.0,427.3 L441.2,426.9 L442.4,427.0 L443.7,426.9 L444.9,426.7 L446.1,426.8 L447.3,426.3 L448.6,426.6 L449.8,426.6 L451.0,426.3 L452.2,426.1 L453.5,425.7 L454.7,425.9 L455.9,425.9 L457.1,425.8 L458.4,426.1 L459.6,426.0 L460.8,425.9 L462.1,425.7 L463.3,426.0 L464.5,425.9 L465.9,425.6 L467.2,424.9 L468.6,424.7 L469.8,425.3 L471.1,425.4 L472.3,425.3 L473.5,426.2 L474.7,425.9 L476.0,426.4 L477.2,426.8 L478.6,427.0 L479.9,426.9 L481.3,426.8 L482.6,426.9 L484.0,426.8 L485.4,426.8 L486.7,426.7 L488.1,426.6 L489.5,426.5 L490.8,427.0 L492.2,426.8 L493.5,426.9 L494.9,426.7 L496.2,426.7 L497.5,426.4 L498.9,426.3 L500.2,426.3 L501.6,426.5 L502.9,426.2 L504.1,425.8 L505.4,426.1 L506.6,425.8 L507.9,426.1 L509.1,425.7 L510.4,425.6 L511.6,425.6 L512.9,425.6 L514.1,425.7 L515.4,425.3 L516.6,425.6 L517.9,425.3 L519.2,425.1 L520.6,425.4 L521.9,425.4 L523.2,425.5 L524.6,426.1 L525.9,426.1 L527.3,425.9 L528.6,426.2 L529.9,426.1 L531.1,426.3 L532.4,426.6 L533.6,426.7 L534.9,426.7 L536.1,426.7 L537.4,426.5 L538.6,426.8" fill="none" stroke="#7a7ec8" stroke-width="1.1"/>
<path d="M539.6,427.4 L540.9,427.1 L542.2,426.8 L543.5,426.8 L544.8,426.6 L546.1,426.1 L547.4,426.0 L548.7,426.1 L550.0,425.7 L551.4,425.2 L552.7,425.5 L554.0,425.3 L555.4,425.2 L556.8,424.6 L558.1,424.5 L559.4,424.3 L560.8,424.0 L562.1,424.0 L563.5,424.1 L564.8,423.8 L566.1,423.5 L567.5,423.8 L568.8,423.4 L570.2,423.4 L571.5,423.2 L572.8,423.3 L574.0,422.8 L575.2,423.3 L576.5,423.2 L577.8,423.0 L579.0,423.0 L579.0,448 L539.6,448 Z" fill="#b7c4f7"/>
<path d="M539.6,427.4 L540.9,427.1 L542.2,426.8 L543.5,426.8 L544.8,426.6 L546.1,426.1 L547.4,426.0 L548.7,426.1 L550.0,425.7 L551.4,425.2 L552.7,425.5 L554.0,425.3 L555.4,425.2 L556.8,424.6 L558.1,424.5 L559.4,424.3 L560.8,424.0 L562.1,424.0 L563.5,424.1 L564.8,423.8 L566.1,423.5 L567.5,423.8 L568.8,423.4 L570.2,423.4 L571.5,423.2 L572.8,423.3 L574.0,422.8 L575.2,423.3 L576.5,423.2 L577.8,423.0 L579.0,423.0" fill="none" stroke="#7a7ec8" stroke-width="1.1"/>
</g>
<text x="162.5" y="443.8" font-family="DejaVu Sans, Liberation Sans, sans-serif" font-size="10" fill="#222">21</text>
<text x="351.5" y="443.8" font-family="DejaVu Sans, Liberation Sans, sans-serif" font-size="10" fill="#222">22</text>
<text x="540.5" y="443.8" font-family="DejaVu Sans, Liberation Sans, sans-serif" font-size="10" fill="#222">23</text>
<line x1="484.5" y1="411" x2="484.5" y2="448" stroke="#22a2d6" stroke-width="1"/>
<line x1="579.5" y1="411" x2="579.5" y2="448" stroke="#22a2d6" stroke-width="1"/>
<rect x="11" y="449" width="568" height="10" fill="url(#trk)"/>
<rect x="491.5" y="448.5" width="81" height="10.5" fill="url(#thumb)" stroke="#000" stroke-width="1"/>
<line x1="10" y1="448.5" x2="580" y2="448.5" stroke="#000" stroke-width="1"/>
<rect x="478.5" y="415.5" width="13" height="29" fill="url(#hdl)" stroke="#000" stroke-width="1"/>
<polygon points="483,429.3 487,425.4 487,433.2" fill="#000"/>
<rect x="572.5" y="415.5" width="13" height="29" fill="url(#hdl)" stroke="#000" stroke-width="1"/>
<polygon points="577.2,425.4 581.2,429.3 577.2,433.2" fill="#000"/>
<line x1="10.5" y1="10" x2="10.5" y2="460" stroke="#000" stroke-width="1"/>
<line x1="640.5" y1="10" x2="640.5" y2="460" stroke="#000" stroke-width="1"/>
<line x1="10" y1="10.5" x2="641" y2="10.5" stroke="#000" stroke-width="1"/>
<line x1="10" y1="29.5" x2="641" y2="29.5" stroke="#000" stroke-width="1"/>
<line x1="10" y1="302.5" x2="641" y2="302.5" stroke="#000" stroke-width="1"/>
<line x1="10" y1="315.5" x2="641" y2="315.5" stroke="#000" stroke-width="1"/>
<line x1="10" y1="397.5" x2="641" y2="397.5" stroke="#000" stroke-width="1"/>
<line x1="10" y1="410.5" x2="641" y2="410.5" stroke="#000" stroke-width="1"/>
<line x1="10" y1="459.5" x2="641" y2="459.5" stroke="#000" stroke-width="1"/>
<line x1="579.5" y1="29" x2="579.5" y2="303" stroke="#000" stroke-width="1"/>
<line x1="579.5" y1="315" x2="579.5" y2="398" stroke="#000" stroke-width="1"/>
<text x="12.6" y="24.6" font-family="'Liberation Sans', 'Noto Sans CJK JP', sans-serif" font-size="12.5" font-weight="500" fill="#111">日付</text>
<text x="41.3" y="24.6" font-family="DejaVu Sans, Liberation Sans, sans-serif" font-size="13.8" fill="#111" textLength="83" lengthAdjust="spacingAndGlyphs">2023/03/17</text>
<text x="128.2" y="24.6" font-family="DejaVu Sans, Liberation Sans, sans-serif" font-size="13.8" fill="#111" textLength="39.5" lengthAdjust="spacingAndGlyphs">15:00</text>
<text x="172.3" y="24.6" font-family="'Liberation Sans', 'Noto Sans CJK JP', sans-serif" font-size="12.5" font-weight="500" fill="#111">始値</text>
<text x="200.5" y="24.6" font-family="DejaVu Sans, Liberation Sans, sans-serif" font-size="13.6" font-weight="bold" fill="#1a1a1a">1,952.46</text>
<text x="271.3" y="24.6" font-family="'Liberation Sans', 'Noto Sans CJK JP', sans-serif" font-size="12.5" font-weight="500" fill="#111">高値</text>
<text x="300" y="24.6" font-family="DejaVu Sans, Liberation Sans, sans-serif" font-size="13.6" font-weight="bold" fill="#ff0000">1,961.06</text>
<text x="369.4" y="24.6" font-family="'Liberation Sans', 'Noto Sans CJK JP', sans-serif" font-size="12.5" font-weight="500" fill="#111">安値</text>
<text x="397.8" y="24.6" font-family="DejaVu Sans, Liberation Sans, sans-serif" font-size="13.6" font-weight="bold" fill="#107510">1,947.25</text>
<text x="467.4" y="24.6" font-family="'Liberation Sans', 'Noto Sans CJK JP', sans-serif" font-size="12.5" font-weight="500" fill="#111">終値</text>
<text x="495.8" y="24.6" font-family="DejaVu Sans, Liberation Sans, sans-serif" font-size="13.6" font-weight="bold" fill="#1a1a1a">1,959.42</text>
</svg>
</body></html>
